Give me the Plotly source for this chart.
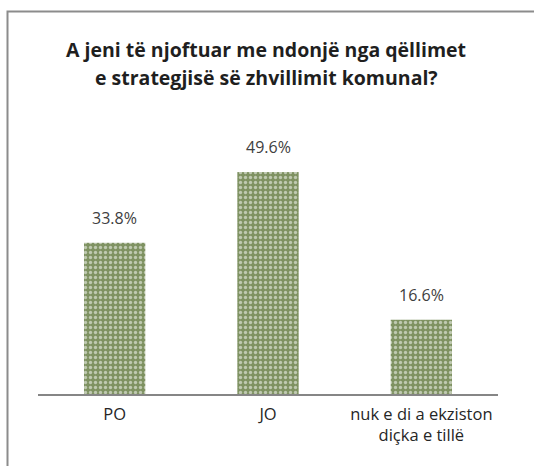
import plotly.graph_objects as go

categories = ["PO", "JO", "nuk e di a ekziston<br>diçka e tillë"]
values = [33.8, 49.6, 16.6]
value_labels = ["33.8%", "49.6%", "16.6%"]
title_lines = ["A jeni të njoftuar me ndonjë nga qëllimet",
               "e strategjisë së zhvillimit komunal?"]

FONT = "Open Sans"
W, H = 534, 466
ML, MR, MT, MB = 38, 36, 150, 72
PW, PH = W - ML - MR, H - MT - MB

def px_to_paper_x(px):
    return (px - ML) / PW

def px_to_paper_y(py):
    return (H - MB - py) / PH

fig = go.Figure()
fig.add_trace(go.Bar(
    x=categories,
    y=values,
    width=0.4,
    marker=dict(
        color="#7f9262",
        line=dict(width=0),
        pattern=dict(shape=".", fgcolor="white", bgcolor="#7f9262",
                     size=5, solidity=0.35, fillmode="overlay"),
    ),
    hoverinfo="skip",
))

annotations = []
for c, v, t in zip(categories, values, value_labels):
    annotations.append(dict(
        x=c, y=v, xref="x", yref="y", text=t, showarrow=False,
        yanchor="bottom", yshift=12,
        font=dict(family=FONT, size=16, color="#404040"),
    ))

for line, py in zip(title_lines, [49, 78]):
    annotations.append(dict(
        x=px_to_paper_x(266), y=px_to_paper_y(py), xref="paper", yref="paper",
        text="<b>" + line + "</b>", showarrow=False,
        xanchor="center", yanchor="middle",
        font=dict(family=FONT, size=19.5, color="#1f1f1f"),
    ))

shapes = [dict(
    type="rect", xref="paper", yref="paper",
    x0=px_to_paper_x(7.5), x1=px_to_paper_x(560),
    y0=px_to_paper_y(11.5), y1=px_to_paper_y(520),
    line=dict(color="#8c8c8c", width=2), fillcolor="rgba(0,0,0,0)",
    layer="below",
)]

fig.update_layout(
    width=W, height=H,
    margin=dict(l=ML, r=MR, t=MT, b=MB, pad=0),
    paper_bgcolor="white", plot_bgcolor="white",
    showlegend=False,
    annotations=annotations,
    shapes=shapes,
    xaxis=dict(
        showline=True, linecolor="#868686", linewidth=2,
        showgrid=False, zeroline=False, ticks="",
        tickfont=dict(family=FONT, size=16.5, color="#262626"),
        ticklabelstandoff=4,
        fixedrange=True,
    ),
    yaxis=dict(
        range=[0, 54.5], visible=False, showgrid=False, zeroline=False,
        fixedrange=True,
    ),
)

fig.write_html("out.html",
               config={"displayModeBar": False},
               post_script="document.body.style.margin='0';document.body.style.overflow='hidden';")
